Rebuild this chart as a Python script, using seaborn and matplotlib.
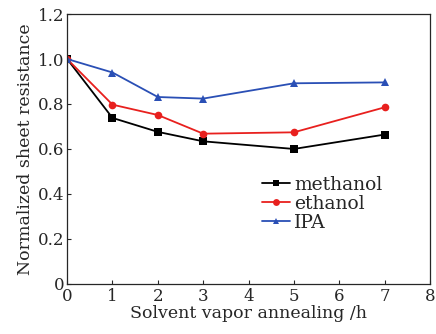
import matplotlib
matplotlib.use("Agg")
import matplotlib.pyplot as plt
import seaborn as sns
import pandas as pd

# data
hours = [0, 1, 2, 3, 5, 7]
methanol = [1.0, 0.738, 0.676, 0.634, 0.600, 0.664]
ethanol = [1.0, 0.797, 0.751, 0.668, 0.674, 0.785]
ipa = [1.0, 0.940, 0.831, 0.824, 0.892, 0.896]
series = ["methanol", "ethanol", "IPA"]
colors = ["black", "#e8201e", "#2a4fb5"]
markers = ["s", "o", "^"]

sns.set_style("ticks")
plt.rcParams["font.family"] = ["DejaVu Serif"]
plt.rcParams["xtick.direction"] = "in"
plt.rcParams["ytick.direction"] = "in"

df = pd.DataFrame({"hours": hours * 3,
                   "value": methanol + ethanol + ipa,
                   "solvent": [s for s in series for _ in hours]})

fig = plt.figure(figsize=(4.36, 3.34), dpi=100)
ax = fig.add_axes([0.154, 0.150, 0.832, 0.808])

sns.lineplot(data=df, x="hours", y="value", hue="solvent", style="solvent",
             hue_order=series, style_order=series, palette=colors,
             markers=markers, dashes=False, markersize=5.5, markeredgewidth=0,
             linewidth=1.3, ax=ax)

ax.set_xlim(0, 8)
ax.set_ylim(0, 1.2)
ax.set_xticks(range(0, 9))
ax.set_yticks([0, 0.2, 0.4, 0.6, 0.8, 1.0, 1.2])
ax.set_yticklabels(["0", "0.2", "0.4", "0.6", "0.8", "1.0", "1.2"])
ax.tick_params(labelsize=12, length=3, width=0.8, pad=2)
ax.tick_params(axis="x", pad=3)
for sp in ax.spines.values():
    sp.set_visible(True)
    sp.set_linewidth(0.9)
ax.set_xlabel("Solvent vapor annealing /h", fontsize=12.5, labelpad=0)
ax.set_ylabel("Normalized sheet resistance", fontsize=12.5, labelpad=3)

ax.legend(title=None, loc="lower right", bbox_to_anchor=(0.89, 0.165),
          frameon=False, fontsize=13.5, handlelength=1.5, handletextpad=0.2,
          labelspacing=0.05, borderaxespad=0, markerscale=0.9)

fig.savefig("out.png", dpi=100)
